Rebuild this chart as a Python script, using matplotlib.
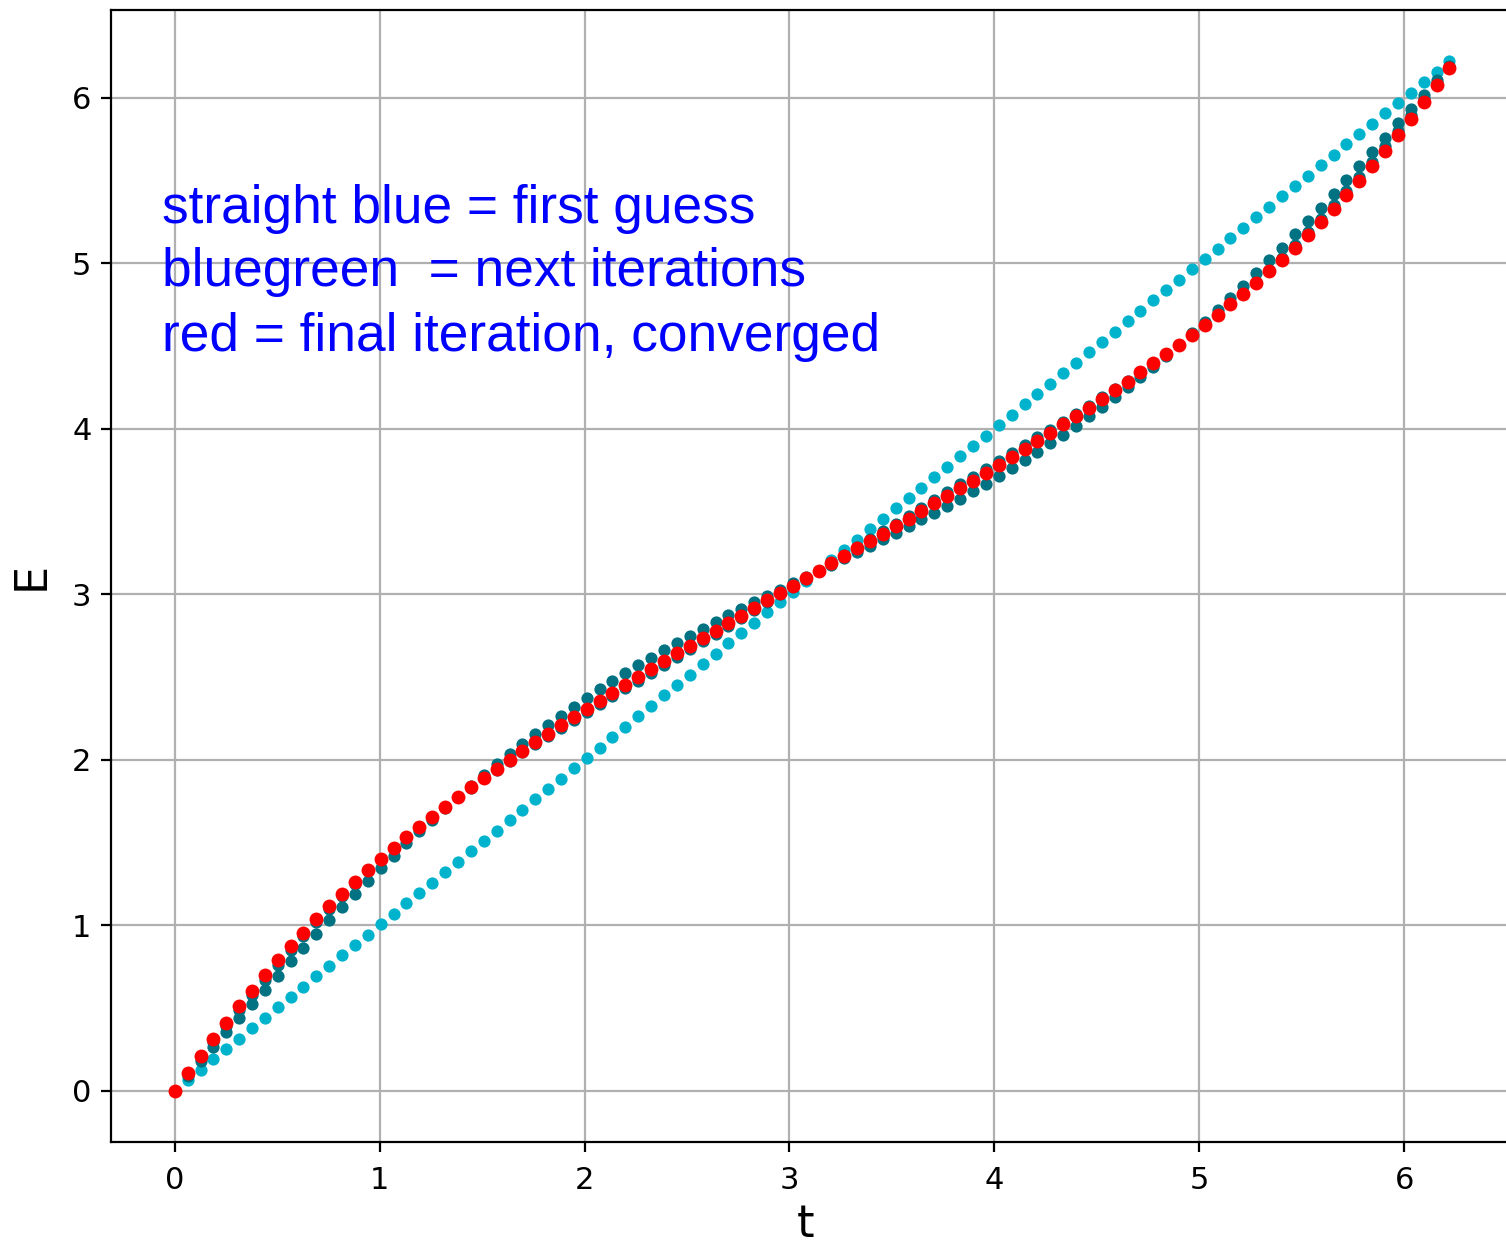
import matplotlib
matplotlib.use("Agg")
import matplotlib.pyplot as plt

# mean anomaly samples (one orbit, 100 steps)
t = [0.000, 0.063, 0.126, 0.188, 0.251, 0.314, 0.377, 0.440, 0.503, 0.565,
     0.628, 0.691, 0.754, 0.817, 0.880, 0.942, 1.005, 1.068, 1.131, 1.194,
     1.257, 1.319, 1.382, 1.445, 1.508, 1.571, 1.634, 1.696, 1.759, 1.822,
     1.885, 1.948, 2.011, 2.073, 2.136, 2.199, 2.262, 2.325, 2.388, 2.450,
     2.513, 2.576, 2.639, 2.702, 2.765, 2.827, 2.890, 2.953, 3.016, 3.079,
     3.142, 3.204, 3.267, 3.330, 3.393, 3.456, 3.519, 3.581, 3.644, 3.707,
     3.770, 3.833, 3.896, 3.958, 4.021, 4.084, 4.147, 4.210, 4.273, 4.335,
     4.398, 4.461, 4.524, 4.587, 4.650, 4.712, 4.775, 4.838, 4.901, 4.964,
     5.027, 5.089, 5.152, 5.215, 5.278, 5.341, 5.404, 5.466, 5.529, 5.592,
     5.655, 5.718, 5.781, 5.843, 5.906, 5.969, 6.032, 6.095, 6.158, 6.220]

# E0: first guess
first_guess = [0.000, 0.063, 0.126, 0.188, 0.251, 0.314, 0.377, 0.440, 0.503, 0.565,
               0.628, 0.691, 0.754, 0.817, 0.880, 0.942, 1.005, 1.068, 1.131, 1.194,
               1.257, 1.319, 1.382, 1.445, 1.508, 1.571, 1.634, 1.696, 1.759, 1.822,
               1.885, 1.948, 2.011, 2.073, 2.136, 2.199, 2.262, 2.325, 2.388, 2.450,
               2.513, 2.576, 2.639, 2.702, 2.765, 2.827, 2.890, 2.953, 3.016, 3.079,
               3.142, 3.204, 3.267, 3.330, 3.393, 3.456, 3.519, 3.581, 3.644, 3.707,
               3.770, 3.833, 3.896, 3.958, 4.021, 4.084, 4.147, 4.210, 4.273, 4.335,
               4.398, 4.461, 4.524, 4.587, 4.650, 4.712, 4.775, 4.838, 4.901, 4.964,
               5.027, 5.089, 5.152, 5.215, 5.278, 5.341, 5.404, 5.466, 5.529, 5.592,
               5.655, 5.718, 5.781, 5.843, 5.906, 5.969, 6.032, 6.095, 6.158, 6.220]

# E1, E2: intermediate iterations
iter_1 = [0.000, 0.088, 0.176, 0.264, 0.351, 0.438, 0.524, 0.610, 0.695, 0.780,
          0.863, 0.946, 1.028, 1.108, 1.188, 1.266, 1.343, 1.419, 1.493, 1.566,
          1.637, 1.707, 1.775, 1.842, 1.907, 1.971, 2.033, 2.093, 2.152, 2.210,
          2.265, 2.320, 2.373, 2.424, 2.474, 2.523, 2.570, 2.616, 2.661, 2.705,
          2.748, 2.790, 2.832, 2.872, 2.912, 2.951, 2.990, 3.028, 3.066, 3.104,
          3.142, 3.179, 3.217, 3.255, 3.293, 3.332, 3.371, 3.411, 3.452, 3.493,
          3.535, 3.578, 3.622, 3.667, 3.713, 3.761, 3.809, 3.859, 3.911, 3.964,
          4.018, 4.074, 4.131, 4.190, 4.250, 4.312, 4.376, 4.441, 4.508, 4.576,
          4.646, 4.718, 4.790, 4.865, 4.940, 5.017, 5.095, 5.175, 5.255, 5.337,
          5.420, 5.503, 5.588, 5.673, 5.759, 5.845, 5.932, 6.020, 6.107, 6.195]

iter_2 = [0.000, 0.098, 0.196, 0.293, 0.389, 0.484, 0.577, 0.669, 0.759, 0.847,
          0.932, 1.016, 1.096, 1.175, 1.251, 1.324, 1.395, 1.464, 1.530, 1.594,
          1.656, 1.716, 1.774, 1.830, 1.886, 1.939, 1.992, 2.043, 2.094, 2.143,
          2.192, 2.241, 2.289, 2.336, 2.384, 2.431, 2.478, 2.525, 2.573, 2.619,
          2.667, 2.714, 2.761, 2.808, 2.856, 2.903, 2.951, 2.999, 3.046, 3.094,
          3.142, 3.189, 3.237, 3.284, 3.332, 3.380, 3.427, 3.475, 3.522, 3.569,
          3.616, 3.664, 3.710, 3.758, 3.805, 3.852, 3.899, 3.947, 3.994, 4.042,
          4.091, 4.140, 4.189, 4.240, 4.291, 4.344, 4.397, 4.453, 4.509, 4.567,
          4.627, 4.689, 4.753, 4.819, 4.888, 4.959, 5.032, 5.108, 5.187, 5.267,
          5.351, 5.436, 5.524, 5.614, 5.706, 5.799, 5.894, 5.990, 6.087, 6.185]

# converged eccentric anomaly
final = [0.000, 0.105, 0.208, 0.311, 0.411, 0.509, 0.604, 0.696, 0.786, 0.872,
         0.955, 1.035, 1.113, 1.188, 1.261, 1.331, 1.400, 1.466, 1.531, 1.594,
         1.655, 1.715, 1.774, 1.832, 1.888, 1.943, 1.998, 2.051, 2.104, 2.156,
         2.207, 2.257, 2.307, 2.356, 2.405, 2.453, 2.501, 2.548, 2.596, 2.642,
         2.688, 2.734, 2.780, 2.826, 2.871, 2.917, 2.962, 3.007, 3.052, 3.097,
         3.142, 3.186, 3.231, 3.276, 3.321, 3.366, 3.412, 3.457, 3.503, 3.549,
         3.595, 3.641, 3.687, 3.735, 3.782, 3.830, 3.878, 3.927, 3.976, 4.026,
         4.076, 4.127, 4.179, 4.232, 4.285, 4.340, 4.395, 4.451, 4.509, 4.568,
         4.628, 4.689, 4.752, 4.817, 4.883, 4.952, 5.022, 5.095, 5.170, 5.248,
         5.328, 5.411, 5.497, 5.587, 5.679, 5.774, 5.872, 5.972, 6.075, 6.178]

notes = ["straight blue = first guess",
         "bluegreen  = next iterations",
         "red = final iteration, converged"]
note_y = [5.242, 4.861, 4.467]

fig = plt.figure(figsize=(7.53, 6.23), dpi=200)
ax = fig.add_axes([0.0737, 0.0835, 0.931, 0.9085])

ax.plot(t, first_guess, 'o', color='#00b3cc', markersize=4.4, markeredgewidth=0)
ax.plot(t, iter_1, 'o', color='#007282', markersize=4.4, markeredgewidth=0)
ax.plot(t, iter_2, 'o', color='#007282', markersize=4.4, markeredgewidth=0)
ax.plot(t, final, 'o', color='#ff0000', markersize=5.0, markeredgewidth=0)

for s, y in zip(notes, note_y):
    ax.text(-0.064, y, s, color='#0000ff', fontsize=19.2,
            family='Liberation Sans', va='baseline', ha='left')

ax.grid(True)
ax.tick_params(labelsize=11)
ax.tick_params(axis='x', pad=5)
ax.set_xlabel("t", fontsize=16)
ax.set_ylabel("E", fontsize=16, labelpad=7)
ax.xaxis.set_label_coords(0.4957, -0.054)

fig.savefig("out.png", dpi=200)
